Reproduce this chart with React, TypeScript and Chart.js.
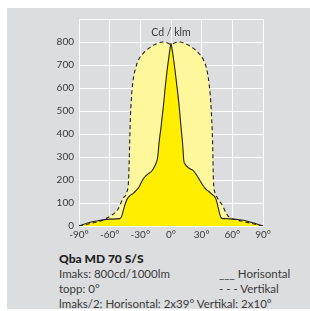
import React, { useEffect, useRef } from "react";
import { Chart, registerables } from "chart.js";

Chart.register(...registerables);

// Vertikal (dashed) curve
const vertAngles = [-90, -80, -70, -63, -57, -52, -47, -43, -41.5, -40.6, -39.8, -38.8, -37.2, -35, -32, -27, -20, -14, -8, -4, 0, 4, 8, 14, 20, 27, 32, 35, 37.2, 38.8, 39.8, 40.6, 41.5, 43, 45, 48, 51, 54, 57.5, 63, 70, 80, 90];
const vertValues = [0, 10, 20, 34, 50, 72, 120, 150, 200, 330, 460, 550, 630, 680, 720, 752, 778, 793, 800, 797, 790, 797, 800, 793, 778, 752, 720, 680, 620, 545, 465, 380, 200, 145, 125, 105, 83, 55, 36, 28, 20, 10, 0];

// Horisontal (solid) curve
const horAngles = [-90, -80, -70, -60, -50, -48, -46.5, -44.5, -42.5, -40, -37, -34, -31, -28.5, -26, -22, -19, -16.5, -14.5, -13, -11.5, -10, -8.5, -7, -5.5, -4, -2.5, -1, 0, 1, 2.5, 4, 6, 8, 10, 11.5, 12.5, 14, 16, 19, 22, 25, 28, 31, 34, 37, 40, 43, 44.5, 46, 47.5, 49, 52, 58, 65, 71, 80, 90];
const horValues = [0, 15, 24, 30, 32, 45, 70, 100, 120, 133, 142, 155, 172, 195, 212, 228, 238, 255, 275, 300, 370, 420, 480, 540, 610, 670, 720, 770, 793, 770, 725, 675, 600, 520, 420, 350, 285, 268, 257, 248, 240, 222, 200, 178, 160, 150, 138, 126, 110, 83, 55, 36, 32, 31, 28, 25, 14, 0];

const xTicks = [-90, -60, -30, 0, 30, 60, 90];
const yTicks = [0, 100, 200, 300, 400, 500, 600, 700, 800];

const unitLabel = "Cd / klm";
const titleText = "Qba MD 70 S/S";
const infoLines = ["Imaks: 800cd/1000lm", "topp: 0°", "lmaks/2: Horisontal: 2x39° Vertikal: 2x10°"];
const legendLines = ["___ Horisontal", "- - - Vertikal"];

const FONT = "Lato, 'Open Sans', sans-serif";
const TEXT = "#3a3a3a";

const unitPlugin = {
  id: "unitLabel",
  afterDatasetsDraw(chart: any) {
    const { ctx, chartArea, scales } = chart;
    ctx.save();
    ctx.fillStyle = TEXT;
    ctx.font = `10.5px ${FONT}`;
    ctx.textAlign = "center";
    ctx.textBaseline = "alphabetic";
    ctx.fillText(unitLabel, scales.x.getPixelForValue(0), chartArea.top + 17);
    ctx.restore();
  },
};

export default function App() {
  const ref = useRef<HTMLCanvasElement>(null);

  useEffect(() => {
    if (!ref.current) return;
    const chart = new Chart(ref.current, {
      type: "line",
      data: {
        datasets: [
          {
            label: "Horisontal",
            data: horAngles.map((a, i) => ({ x: a, y: horValues[i] })),
            borderColor: "#222",
            borderWidth: 1.1,
            backgroundColor: "#ffee00",
            fill: "origin",
            pointRadius: 0,
            cubicInterpolationMode: "monotone",
          },
          {
            label: "Vertikal",
            data: vertAngles.map((a, i) => ({ x: a, y: vertValues[i] })),
            borderColor: "#222",
            borderWidth: 1.1,
            borderDash: [4, 3],
            backgroundColor: "#fff79b",
            fill: "origin",
            pointRadius: 0,
            cubicInterpolationMode: "monotone",
          },
        ],
      },
      options: {
        animation: false,
        responsive: false,
        devicePixelRatio: 1,
        layout: { padding: { left: 0, right: 27, top: 10, bottom: 0 } },
        plugins: {
          legend: { display: false },
          tooltip: { enabled: false },
          filler: { drawTime: "beforeDatasetsDraw" },
        },
        scales: {
          x: {
            type: "linear",
            min: -90,
            max: 90,
            afterBuildTicks: (s: any) => {
              s.ticks = xTicks.map((v) => ({ value: v }));
            },
            afterFit: (s: any) => {
              s.height = 20;
            },
            grid: { color: "#ffffff", lineWidth: 1, drawTicks: false },
            border: { color: "#ffffff", width: 1 },
            ticks: {
              padding: 3,
              color: TEXT,
              font: { family: FONT, size: 10 },
              maxRotation: 0,
              callback: (v: any) => `${v}°`,
            },
          },
          y: {
            min: 0,
            max: 900,
            afterBuildTicks: (s: any) => {
              s.ticks = [...yTicks, 900].map((v) => ({ value: v }));
            },
            afterFit: (s: any) => {
              s.width = 39;
            },
            grid: { color: "#ffffff", lineWidth: 1, drawTicks: false },
            border: { color: "#ffffff", width: 1 },
            ticks: {
              padding: 5,
              color: TEXT,
              font: { family: FONT, size: 10 },
              callback: (v: any) => (yTicks.includes(v) ? String(v) : ""),
            },
          },
        },
      },
      plugins: [unitPlugin],
    });
    return () => chart.destroy();
  }, []);

  const line = (top: number, left: number, text: string, bold = false) => (
    <div
      style={{
        position: "absolute",
        left,
        top,
        fontFamily: FONT,
        fontSize: bold ? 12 : 11.5,
        fontWeight: bold ? 900 : 400,
        color: bold ? "#222" : TEXT,
        lineHeight: "14px",
        whiteSpace: "nowrap",
      }}
    >
      {text}
    </div>
  );

  return (
    <div
      style={{
        position: "absolute",
        left: 7,
        top: 8,
        width: 303,
        height: 301,
        background: "#dcdddf",
        overflow: "hidden",
      }}
    >
      <canvas
        ref={ref}
        width={250}
        height={238}
        style={{ position: "absolute", left: 33, top: 0, width: 250, height: 238 }}
      />
      {line(244, 52, titleText, true)}
      {line(259, 52, infoLines[0])}
      {line(274, 52, infoLines[1])}
      {line(289, 52, infoLines[2])}
      {line(259, 212, legendLines[0])}
      {line(274, 212, legendLines[1])}
    </div>
  );
}
